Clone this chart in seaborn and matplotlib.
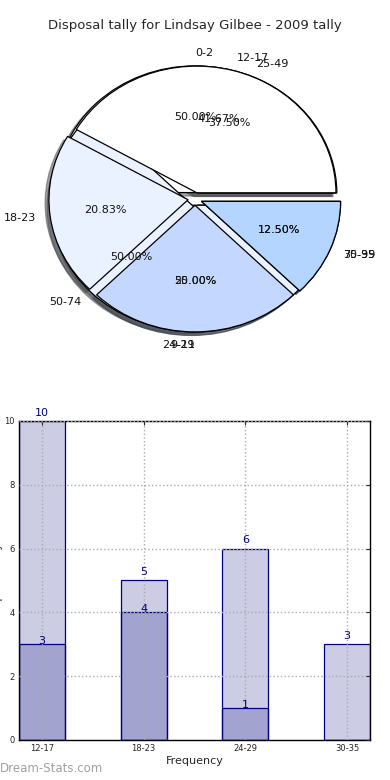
import matplotlib
matplotlib.use('Agg')
import matplotlib.pyplot as plt
import seaborn as sns
import pandas as pd

# datos
grupos = ['12-17', '18-23', '24-29', '30-35']
tally_total = [10, 5, 6, 3]
tally_partial = [3, 4, 1, 0]

pie_b_labels = ['25-49', '50-74', '75-99']
pie_b_values = [3, 4, 1]

pie_c_labels = ['0-2', '9-11']
pie_c_values = [1, 1]

colores_pie = ['#ffffff', '#ebf2ff', '#c4d8ff', '#b3d5ff']
titulo = 'Disposal tally for Lindsay Gilbee - 2009 tally'

sns.set_style('white')
plt.rcParams['font.family'] = ['DejaVu Sans']

fig = plt.figure(figsize=(3.9, 7.8), dpi=100)

# Pie (varias tartas superpuestas)
ax1 = fig.add_axes([0.054, 0.542, 0.892, 0.406])
wp = {'edgecolor': 'black', 'linewidth': 0.9}
tp = {'fontsize': 8, 'color': '#111111'}
etiquetas = []
for vals, labs in [(pie_c_values, pie_c_labels), (pie_b_values, pie_b_labels),
                   (tally_total, grupos)]:
    w, t, a = ax1.pie(vals, labels=labs, colors=colores_pie[:len(vals)],
                      explode=[0.05] * len(vals), autopct='%.2f%%', shadow=True,
                      startangle=0, pctdistance=0.6, labeldistance=1.1,
                      wedgeprops=wp, textprops=tp)
    etiquetas += t
# alineacion como en la version antigua (arriba a la izquierda, abajo a la derecha)
for t in etiquetas:
    if t.get_text() == '0-2':
        t.set_ha('left')
    if t.get_text() in ('9-11', '24-29'):
        t.set_ha('right')
ax1.set_aspect('auto')
ax1.set_xlim(-1.25, 1.25)
ax1.set_ylim(-1.25, 1.25)
ax1.set_title(titulo, fontsize=9.5, pad=8)

# Barras
ax2 = fig.add_axes([0.0487, 0.0513, 0.9, 0.409])
df = pd.DataFrame({'grupo': grupos, 'total': tally_total, 'parcial': tally_partial})
sns.barplot(data=df, x='grupo', y='total', width=0.45, saturation=1, ax=ax2)
sns.barplot(data=df, x='grupo', y='parcial', width=0.45, saturation=1, ax=ax2)
for p in ax2.patches:
    p.set_facecolor((0, 0, 0.5, 0.2))
    p.set_edgecolor('navy')
    p.set_linewidth(0.9)

for i, v in enumerate(tally_total):
    ax2.text(i, v + 0.1, str(v), ha='center', va='bottom', color='navy', fontsize=8)
for i, v in enumerate(tally_partial):
    if v > 0:
        ax2.text(i, v - 0.05, str(v), ha='center', va='bottom', color='navy', fontsize=8)

ax2.set_xlim(-0.225, 3.225)
ax2.set_ylim(0, 10)
ax2.set_yticks([0, 2, 4, 6, 8, 10])
ax2.grid(True, linestyle=':', color='#aaaaaa', linewidth=1)
ax2.set_axisbelow(False)
ax2.tick_params(axis='both', labelsize=6, direction='in', length=3,
                top=True, right=True, pad=3)
for s in ax2.spines.values():
    s.set_color('black')
    s.set_linewidth(1)
ax2.set_xlabel('Frequency', fontsize=8, labelpad=2)
ax2.set_ylabel('Disposal Tally', fontsize=8)
ax2.yaxis.set_label_coords(-0.045, 0.5)

fig.text(0.0, 0.006, 'Dream-Stats.com', fontsize=8.5, color='#a0a0a0',
         ha='left', va='bottom')

fig.savefig('out.png', dpi=100)
